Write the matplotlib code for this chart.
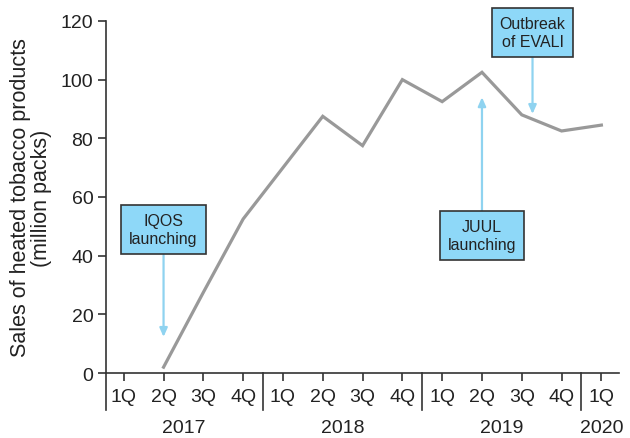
import matplotlib
matplotlib.use("Agg")
import matplotlib.pyplot as plt
import matplotlib.transforms as mtransforms

plt.rcParams["font.family"] = ["Liberation Sans", "DejaVu Sans"]

# quarterly sales, 2Q 2017 .. 1Q 2020
quarters = ["1Q", "2Q", "3Q", "4Q"] * 3 + ["1Q"]
years = ["2017", "2018", "2019", "2020"]
sales = [2, 27.5, 52.5, 70, 87.5, 77.5, 100, 92.5, 102.5, 88, 82.5, 84.5]
sales_start = 1  # index of 2Q 2017

# events: label, arrow target (x, y), box centre (x, y)
events = [
    ("IQOS\nlaunching", (1, 12.3), (1, 48.8)),
    ("JUUL\nlaunching", (9, 94), (9, 46.9)),
    ("Outbreak\nof EVALI", (10.27, 88.3), (10.27, 116.1)),
]

axis_col = "#333333"
text_col = "#222222"
box_col = "#8ed8f8"
arrow_col = "#8fd3f0"
line_col = "#999999"

fig = plt.figure(figsize=(6.3, 4.39), dpi=100)
ax = fig.add_axes([0.168, 0.148, 0.815, 0.802])

xs = list(range(sales_start, sales_start + len(sales)))
ax.plot(xs, sales, color=line_col, lw=2.3, solid_joinstyle="miter", zorder=3)

ax.set_xlim(-0.45, len(quarters) - 0.55)
ax.set_ylim(0, 120)
ax.set_yticks(range(0, 121, 20))
ax.set_xticks(range(len(quarters)))
ax.set_xticklabels(quarters)

for s in ["top", "right"]:
    ax.spines[s].set_visible(False)
for s in ["left", "bottom"]:
    ax.spines[s].set_color(axis_col)
    ax.spines[s].set_linewidth(1.2)

ax.tick_params(axis="both", colors=axis_col, labelcolor=text_col,
               labelsize=14, length=6, width=1.2)
ax.tick_params(axis="x", pad=5)
ax.tick_params(axis="y", pad=3)

ax.set_ylabel("Sales of heated tobacco products\n(million packs)",
              fontsize=15.5, color=text_col, labelpad=6, linespacing=1.05)

# extend left spine below the x axis and draw year separators
trans = mtransforms.blended_transform_factory(ax.transData, ax.transAxes)
ax.plot([0, 0], [0, -0.105], transform=ax.transAxes, color=axis_col,
        lw=1.2, clip_on=False)
for sep in [3.5, 7.5, 11.5]:
    ax.plot([sep, sep], [0, -0.105], transform=trans, color=axis_col,
            lw=1.2, clip_on=False)

year_centres = [1.5, 5.5, 9.5, 12]
for yr, xc in zip(years, year_centres):
    ax.text(xc, -0.156, yr, transform=trans, ha="center", va="center",
            fontsize=14, color=text_col)

for label, target, centre in events:
    ax.annotate(label, xy=target, xytext=centre, ha="center", va="center",
                fontsize=11.5, color=text_col, multialignment="center",
                annotation_clip=False, zorder=5, linespacing=1.25,
                bbox=dict(boxstyle="square,pad=0.5", fc=box_col,
                          ec=axis_col, lw=1.2),
                arrowprops=dict(arrowstyle="-|>,head_length=0.45,head_width=0.2",
                                color=arrow_col, lw=1.6,
                                shrinkA=0, shrinkB=0))

fig.savefig("out.png", dpi=100)
